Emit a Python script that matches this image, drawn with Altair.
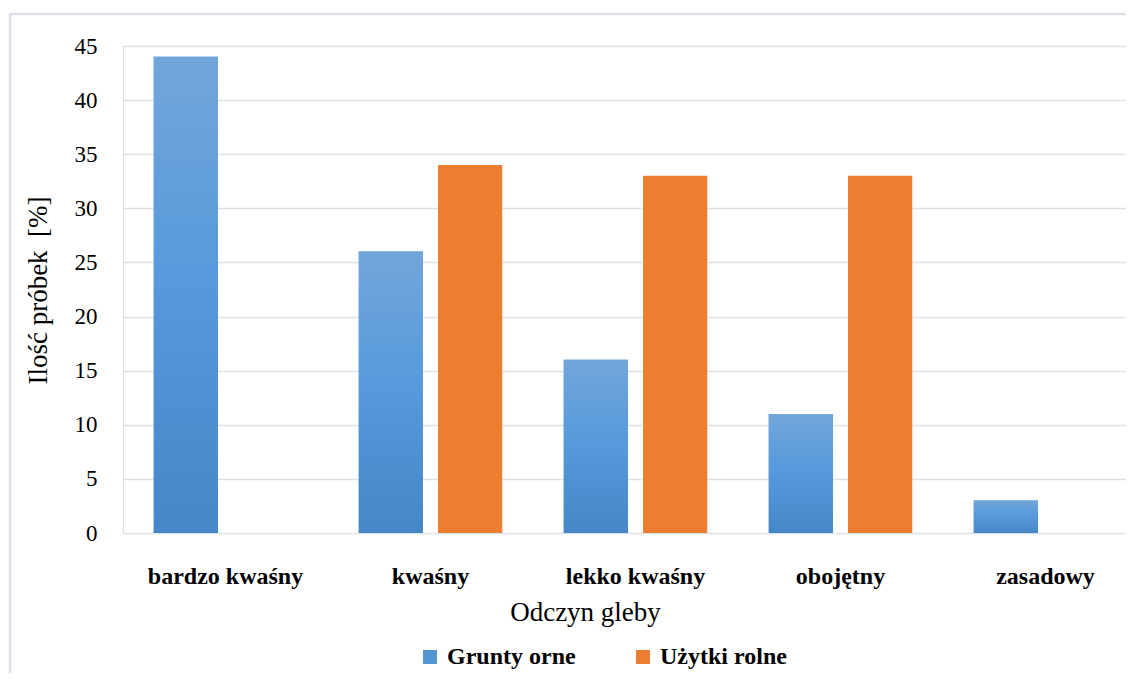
import altair as alt
import pandas as pd

categories = ["bardzo kwaśny", "kwaśny", "lekko kwaśny", "obojętny", "zasadowy"]
series = ["Grunty orne", "Użytki rolne"]
grunty_orne = [44, 26, 16, 11, 3]
uzytki_rolne = [0, 34, 33, 33, 0]
y_ticks = [0, 5, 10, 15, 20, 25, 30, 35, 40, 45]

rows = []
for c, a, b in zip(categories, grunty_orne, uzytki_rolne):
    rows.append({"cat": c, "series": series[0], "val": a})
    rows.append({"cat": c, "series": series[1], "val": b})
df = pd.DataFrame(rows)

FONT = "Palatino Linotype, Book Antiqua, Palatino, Liberation Serif, serif"
GRID = "#dde2e8"

x_enc = alt.X("cat:N", sort=categories, title="Odczyn gleby",
              scale=alt.Scale(paddingInner=0.3, paddingOuter=0.15, range=[0, 1025]),
              axis=alt.Axis(labelAngle=0, labelFontWeight="bold", labelFontSize=24,
                            labelFont=FONT, labelColor="#000000", labelPadding=31,
                            ticks=False, domain=False, titleFont=FONT, titleFontSize=27,
                            titleFontWeight="normal", titleColor="#000000", titlePadding=11,
                            titleX=462, titleAnchor="middle"))
xo_enc = alt.XOffset("series:N", sort=series,
                     scale=alt.Scale(paddingInner=0.19, paddingOuter=0))
y_enc = alt.Y("val:Q", title="Ilość próbek\u00a0 [%]",
              scale=alt.Scale(domain=[0, 45], nice=False),
              axis=alt.Axis(values=y_ticks, labelFont=FONT, labelFontSize=23,
                            labelColor="#000000", labelPadding=26, ticks=False,
                            domain=False, gridColor=GRID, gridWidth=1.4,
                            titleFont=FONT, titleFontSize=27, titleFontWeight="normal",
                            titleColor="#000000", titleX=-85, titleY=244,
                            titleAngle=270, titleAlign="center", titleBaseline="middle"))

base = alt.Chart(df)

bars = base.mark_bar().encode(
    x=x_enc, xOffset=xo_enc, y=y_enc,
    color=alt.Color("series:N", sort=series,
                    scale=alt.Scale(domain=series, range=["#5595d3", "#ed7d31"]),
                    legend=alt.Legend(title=None, orient="none", direction="horizontal",
                                      legendX=295, legendY=599, symbolType="square",
                                      symbolSize=196, symbolStrokeWidth=0,
                                      labelFont=FONT, labelFontSize=24,
                                      labelFontWeight="bold", labelColor="#000000",
                                      labelOffset=5, columnPadding=55))
)

gradient = alt.Gradient(
    gradient="linear",
    stops=[alt.GradientStop(color="#72a6da", offset=0),
           alt.GradientStop(color="#5599dc", offset=0.5),
           alt.GradientStop(color="#4587c6", offset=1)],
    x1=0, x2=0, y1=0, y2=1,
)

blue = base.transform_filter(alt.datum.series == series[0]).mark_bar(color=gradient).encode(
    x=x_enc, xOffset=xo_enc, y=y_enc
)

frame = alt.Chart(pd.DataFrame({"a": [0]})).mark_rect(
    fill=None, stroke=GRID, strokeWidth=2.5, clip=False
).encode(
    x=alt.value(-113), x2=alt.value(1040), y=alt.value(-32), y2=alt.value(700)
)

chart = alt.layer(frame, bars, blue).properties(
    width=1003, height=487,
    autosize=alt.AutoSizeParams(type="none"),
    padding={"left": 115, "top": 38, "right": 0, "bottom": 140},
).configure_view(stroke=None).configure(background="white")

chart.save("out.html", embed_options={"renderer": "svg", "actions": False})
